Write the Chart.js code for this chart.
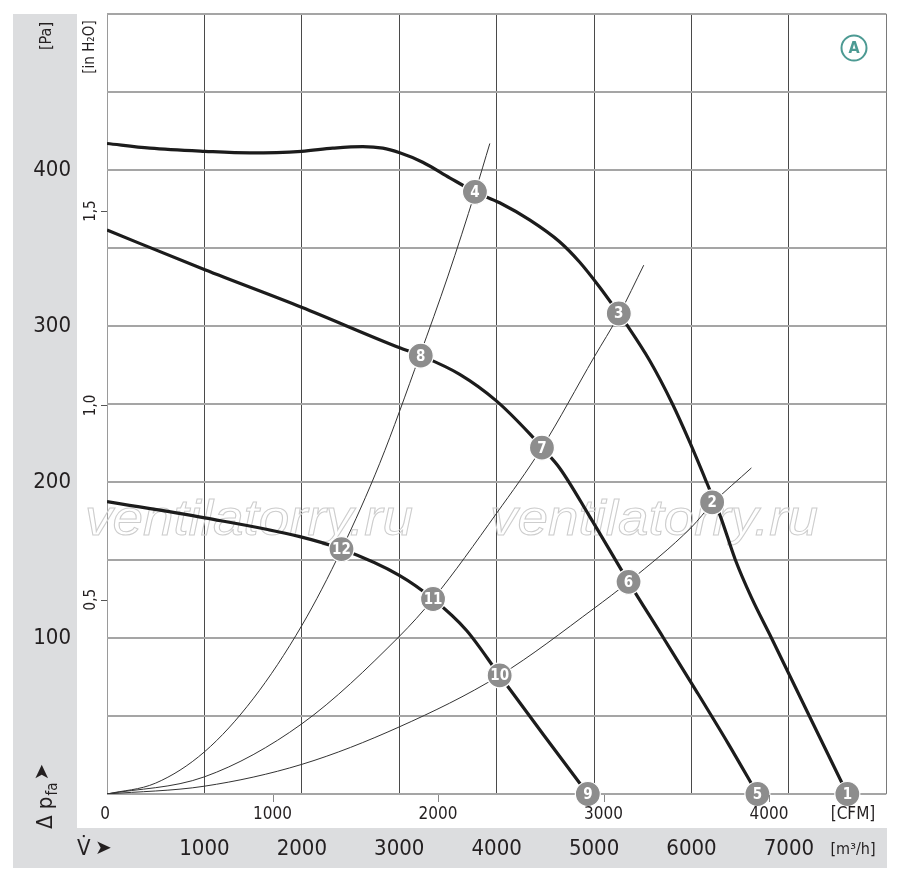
<!DOCTYPE html>
<html><head><meta charset="utf-8">
<script src="https://cdn.jsdelivr.net/npm/chart.js@4.4.1/dist/chart.umd.min.js"></script>
<style>html,body{margin:0;padding:0;background:#fff}canvas{display:block}</style>
</head><body>
<canvas id="c" width="900" height="880" style="width:900px;height:880px"></canvas>
<script>
// ---- data (flow in m³/h, pressure in Pa) ----
const fan1Q = [0, 441, 1005, 1467, 1997, 2318, 2626, 2831, 3005, 3241, 3518, 3777, 4031, 4338, 4646, 4851, 5056, 5254, 5333, 5569, 5805, 5979, 6154, 6297, 6451, 6615, 6821, 7210, 7600];
const fan1P = [417, 414, 412, 411, 412, 414, 415, 414, 411, 405, 395, 386, 379, 368, 354, 341, 325, 308, 301, 278, 250, 226, 200, 178, 150, 126, 100, 50, 0];
const fan2Q = [0, 1005, 1997, 3005, 3221, 3621, 3997, 4338, 4465, 4646, 4954, 5354, 5713, 6050, 6380, 6677];
const fan2P = [361.5, 336, 312, 286, 281, 269, 252, 231, 222, 209, 178, 136, 100, 66, 32, 0];
const fan3Q = [0, 1005, 1979, 2407, 3005, 3347, 3689, 4031, 4492, 4936];
const fan3P = [187.4, 177, 165, 157, 140, 125, 105, 76, 37, 0];
const sysAQ = [0, 500, 1000, 1500, 2000, 2410, 2800, 3210, 3500, 3780, 3930];
const sysAP = [0, 7, 27, 61, 108, 157, 212, 281, 332, 386, 417];
const sysBQ = [0, 1000, 2000, 3000, 3347, 4000, 4465, 5000, 5254, 5510];
const sysBP = [0, 11, 45, 101, 125, 180, 222, 280, 307, 339];
const sysCQ = [0, 1000, 2000, 3000, 4031, 5000, 5354, 6000, 6212, 6615];
const sysCP = [0, 5, 19, 43, 76, 119, 136, 171, 186, 209];
const markerNum = ['1','2','3','4','5','6','7','8','9','10','11','12'];
const markerQ = [7600, 6212, 5254, 3777, 6677, 5354, 4465, 3221, 4936, 4031, 3347, 2407];
const markerP = [0, 187, 308, 386, 0, 136, 222, 281, 0, 76, 125, 157];
// tick labels
const paTicks = [100, 200, 300, 400];
const m3hTicks = [1000, 2000, 3000, 4000, 5000, 6000, 7000];
const cfmTicks = [0, 1000, 2000, 3000, 4000];
const inTicks = [0.5, 1.0, 1.5];
const inLabels = ['0,5', '1,0', '1,5'];
// unit conversions
const CFM_TO_M3H = 1.69901;
const INH2O_TO_PA = 249.089;

const F = "'Liberation Sans Narrow','DejaVu Sans Condensed','Roboto',sans-serif";
const pts = (q, p) => q.map((v, i) => ({x: v, y: p[i]}));

function thick(q, p) {
  return {data: pts(q, p), showLine: true, borderColor: '#1c1c1c', borderWidth: 3.2,
    pointRadius: 0, cubicInterpolationMode: 'monotone', order: 2};
}
function thin(q, p) {
  return {data: pts(q, p), showLine: true, borderColor: '#333', borderWidth: 1,
    pointRadius: 0, cubicInterpolationMode: 'monotone', order: 3};
}

const deco = {
  id: 'deco',
  beforeDraw(chart) {
    const ctx = chart.ctx;
    ctx.save();
    ctx.fillStyle = '#fff';
    ctx.fillRect(0, 0, chart.width, chart.height);
    ctx.fillStyle = '#dcdddf';
    ctx.fillRect(13, 14, 64, 854);
    ctx.fillRect(13, 828, 874, 40);
    ctx.restore();
  },
  beforeDatasetsDraw(chart) {
    const ctx = chart.ctx;
    ctx.save();
    ctx.font = "italic 50px 'Liberation Sans', Arial, sans-serif";
    ctx.strokeStyle = '#cdcdcd';
    ctx.lineWidth = 1;
    const txt = 'ventilatorry.ru';
    const w = ctx.measureText(txt).width;
    [[85, 535], [490, 535]].forEach(([x, y]) => {
      ctx.save();
      ctx.translate(x, y);
      ctx.scale(328 / w, 1);
      ctx.strokeText(txt, 0, 0);
      ctx.restore();
    });
    ctx.restore();
  },
  afterDatasetsDraw(chart) {
    const ctx = chart.ctx;
    const meta = chart.getDatasetMeta(0);
    ctx.save();
    ctx.fillStyle = '#fff';
    ctx.font = `bold 15px ${F}`;
    ctx.textAlign = 'center';
    ctx.textBaseline = 'middle';
    meta.data.forEach((el, i) => {
      ctx.fillText(markerNum[i], el.x, el.y + 1);
    });
    ctx.restore();
  },
  afterDraw(chart) {
    const ctx = chart.ctx;
    const xs = chart.scales.x, ys = chart.scales.y;
    ctx.save();
    ctx.fillStyle = '#231f20';
    // Pa labels
    ctx.font = `22px ${F}`;
    ctx.textAlign = 'right';
    ctx.textBaseline = 'middle';
    paTicks.forEach(v => ctx.fillText(String(v), 71, ys.getPixelForValue(v)));
    // m3/h labels
    ctx.textAlign = 'center';
    m3hTicks.forEach(v => ctx.fillText(String(v), xs.getPixelForValue(v), 849));
    // V arrow
    ctx.textAlign = 'left';
    ctx.fillText('V\u0307', 77, 849);
    ctx.font = "20px 'DejaVu Sans', sans-serif";
    ctx.fillText('\u27A4', 95, 849);
    // CFM labels & ticks
    ctx.font = `17px ${F}`;
    ctx.textAlign = 'center';
    ctx.strokeStyle = '#888';
    ctx.lineWidth = 1;
    cfmTicks.forEach(v => {
      const x = xs.getPixelForValue(v * CFM_TO_M3H);
      ctx.fillText(String(v), v === 0 ? x - 2 : x, 815);
      if (v > 0) {
        ctx.beginPath();
        ctx.moveTo(Math.round(x) + 0.5, 795);
        ctx.lineTo(Math.round(x) + 0.5, 802);
        ctx.stroke();
      }
    });
    ctx.fillText('[CFM]', 853, 815);
    ctx.font = `16px ${F}`;
    ctx.fillText('[m\u00B3/h]', 853, 850);
    // inH2O labels
    ctx.strokeStyle = '#555';
    inTicks.forEach((v, i) => {
      const y = ys.getPixelForValue(v * INH2O_TO_PA);
      ctx.beginPath();
      ctx.moveTo(101, Math.round(y) + 0.5);
      ctx.lineTo(107, Math.round(y) + 0.5);
      ctx.stroke();
      ctx.save();
      ctx.translate(91, y);
      ctx.rotate(-Math.PI / 2);
      ctx.font = `15px ${F}`;
      ctx.textAlign = 'center';
      ctx.textBaseline = 'middle';
      ctx.fillText(inLabels[i], 0, 0);
      ctx.restore();
    });
    // rotated unit labels
    const rot = (txt, x, y, font) => {
      ctx.save();
      ctx.translate(x, y);
      ctx.rotate(-Math.PI / 2);
      ctx.font = font;
      ctx.textAlign = 'center';
      ctx.textBaseline = 'middle';
      ctx.fillText(txt, 0, 0);
      ctx.restore();
    };
    rot('[in H\u2082O]', 90, 47, `15px ${F}`);
    rot('[Pa]', 47, 36, `16px ${F}`);
    // delta p_fa arrow
    ctx.save();
    ctx.translate(46, 829);
    ctx.rotate(-Math.PI / 2);
    ctx.textAlign = 'left';
    ctx.textBaseline = 'middle';
    ctx.font = `22px ${F}`;
    ctx.fillText('\u0394 p', 0, 0);
    let w = ctx.measureText('\u0394 p').width;
    ctx.font = `15px ${F}`;
    ctx.fillText('fa', w + 1, 7);
    w += ctx.measureText('fa').width + 3;
    ctx.font = "20px 'DejaVu Sans', sans-serif";
    ctx.fillText('\u27A4', w, -3);
    ctx.restore();
    // circled A
    ctx.strokeStyle = '#4c9a93';
    ctx.lineWidth = 2;
    ctx.beginPath();
    ctx.arc(854, 48, 12.5, 0, Math.PI * 2);
    ctx.stroke();
    ctx.fillStyle = '#4c9a93';
    ctx.font = `bold 16px ${F}`;
    ctx.textAlign = 'center';
    ctx.textBaseline = 'middle';
    ctx.fillText('A', 854, 49);
    ctx.restore();
  }
};

new Chart(document.getElementById('c'), {
  type: 'scatter',
  data: {
    datasets: [
      {data: pts(markerQ, markerP), pointRadius: 12.5, pointHoverRadius: 12.5,
        pointBackgroundColor: '#8d8d8d', pointBorderColor: '#ffffff', pointBorderWidth: 1.2,
        clip: false, order: 0},
      thick(fan1Q, fan1P),
      thick(fan2Q, fan2P),
      thick(fan3Q, fan3P),
      thin(sysAQ, sysAP),
      thin(sysBQ, sysBP),
      thin(sysCQ, sysCP)
    ]
  },
  options: {
    responsive: false,
    animation: false,
    devicePixelRatio: 1,
    layout: {padding: {left: 107, top: 14, right: 13, bottom: 86}},
    plugins: {legend: {display: false}, tooltip: {enabled: false}},
    scales: {
      x: {
        type: 'linear', min: 0, max: 8000,
        ticks: {display: false, stepSize: 1000},
        grid: {
          drawTicks: false, lineWidth: 1,
          color: c => (c.tick && c.tick.value === 0) ? '#9a9a9a' : (c.tick && c.tick.value === 8000 ? '#7a7a7a' : '#4a4a4a')
        },
        border: {display: false},
        afterFit: s => { s.height = 0; }
      },
      y: {
        type: 'linear', min: 0, max: 500,
        ticks: {display: false, stepSize: 50},
        grid: {drawTicks: false, lineWidth: 2, color: '#a5a5a5'},
        border: {display: false},
        afterFit: s => { s.width = 0; }
      }
    }
  },
  plugins: [deco]
});
</script>
</body></html>
